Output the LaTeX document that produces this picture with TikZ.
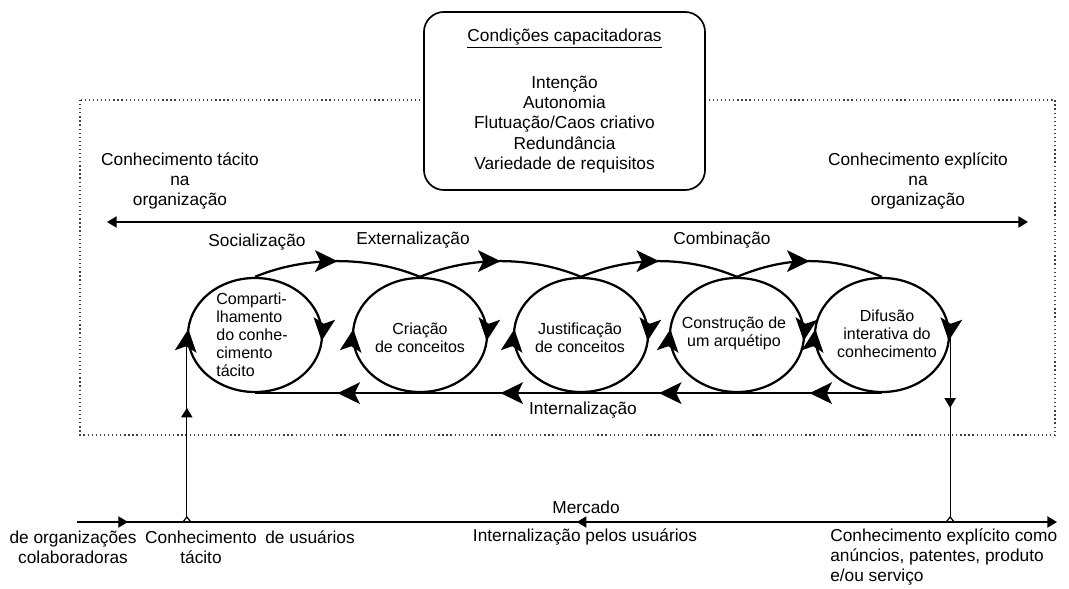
\documentclass[tikz,border=0pt]{standalone}
\usepackage{fontspec}
\setmainfont{Liberation Sans}
\usetikzlibrary{arrows.meta, shapes.geometric, decorations.markings, calc}

\tikzset{
  bigtip/.tip={Stealth[length=5.6mm, width=5.4mm, inset=1.3mm]},
  smalltip/.tip={Triangle[length=2.4mm, width=2.8mm]},
  lbl/.style={font=\fontsize{12.3}{14.2}\selectfont, align=center, inner sep=0pt},
  inside/.style={font=\fontsize{11.4}{12.8}\selectfont, align=center, inner sep=0pt},
  capbox/.style={draw, line width=1.2pt, rounded corners=0.5cm, fill=white,
    minimum width=7.025cm, minimum height=4.45cm, align=center,
    font=\fontsize{12.3}{14.4}\selectfont},
  phase/.style={ellipse, draw, line width=1.6pt, inner sep=0pt,
    minimum width=3.35cm, minimum height=2.85cm,
    postaction={decorate}, decoration={markings,
      mark=at position 0.485 with {\arrowreversed{bigtip}},
      mark=at position 0.985 with {\arrowreversed{bigtip}}}},
  spin/.style={line width=1.6pt, postaction={decorate},
    decoration={markings, mark=at position 0.5 with {\arrow{bigtip}}},
    to path={.. controls +(50,-21) and +(-50,-21) .. (\tikztotarget)}},
  backflow/.style={line width=1.6pt, postaction={decorate},
    decoration={markings, mark=at position 0.5 with {\arrow{bigtip}}}},
  wire/.style={line width=0.9pt},
  mid/.style={postaction={decorate},
    decoration={markings, mark=at position #1 with {\arrow{smalltip}}}},
}

\begin{document}
\begin{tikzpicture}[x=0.025cm, y=-0.025cm]
\useasboundingbox (0,0) rectangle (1069,589);

% organization frame and enabling conditions
\draw[dotted, line width=0.9pt, black!75] (80,100) rectangle (1055,435);
\node[capbox] (cap) at (564.5,101) {\underline{Condições capacitadoras}\\[19pt]
  Intenção\\Autonomia\\Flutuação/Caos criativo\\Redundância\\Variedade de requisitos};

\node[lbl] (tacit) at (180,181) {Conhecimento tácito\\na\\organização};
\node[lbl] (explicit) at (918,181) {Conhecimento explícito\\na\\organização};
\coordinate (axL) at (107,222);
\coordinate (axR) at (1028,222);
\draw[wire, smalltip-smalltip] (axL) -- (axR);

% the five phases
\begin{scope}[every node/.style={phase}]
    \node (e1) at (255,335) {};
    \node (e2) at (420,335) {};
    \node (e3) at (581,335) {};
    \node (e4) at (737,335) {};
    \node (e5) at (882,335) {};
\end{scope}

\begin{scope}[every node/.style={inside}]
    \node[align=left] (t1) at (252,335) {Comparti-\\lhamento\\do conhe-\\cimento\\tácito};
    \node (t2) at (420,338) {Criação\\de conceitos};
    \node (t3) at (580,338) {Justificação\\de conceitos};
    \node (t4) at (734,333) {Construção de\\um arquétipo};
    \node (t5) at (887,334) {Difusão\\interativa do\\conhecimento};
\end{scope}

\path (e1.north) edge[spin] (e2.north)
      (e2.north) edge[spin] (e3.north)
      (e3.north) edge[spin] (e4.north)
      (e4.north) edge[spin] (e5.north);
\path (e5.south) edge[backflow] (e4.south)
      (e4.south) edge[backflow] (e3.south)
      (e3.south) edge[backflow] (e2.south)
      (e2.south) edge[backflow] (e1.south);

\node[lbl] (soc) at (257,242) {Socialização};
\node[lbl] (ext) at (413,240) {Externalização};
\node[lbl] (comb) at (722,240) {Combinação};
\node[lbl] (int) at (583,410) {Internalização};

% market
\coordinate (mIn) at (77,522);
\coordinate (mOut) at (1057,522);
\coordinate (jL) at (e1.west |- mIn);
\coordinate (jR) at (e5.east |- mIn);
\draw[wire, -smalltip, postaction={decorate}, decoration={markings,
    mark=at position 0.052 with {\arrow{smalltip}},
    mark=at position 0.51 with {\arrowreversed{smalltip}}}] (mIn) -- (mOut);
\draw[wire] (jL) +(-4,0) -- +(0,-5) -- +(4,0);
\draw[wire] (jR) +(-4,0) -- +(0,-5) -- +(4,0);
\draw[wire, mid=0.6] ($(jL)+(0,-5)$) -- (e1.west);
\draw[wire, mid=0.4] (e5.east) -- ($(jR)+(0,-5)$);

\node[lbl] (orgs) at (73,547) {de organizações\\colaboradoras};
\node[lbl] (tacitB) at (201,547) {Conhecimento\\tácito};
\node[lbl] (users) at (310,537) {de usuários};
\node[lbl] (market) at (586,507) {Mercado};
\node[lbl] (intUsers) at (585,537) {Internalização pelos usuários};
\node[lbl, align=left, anchor=west] (explB) at (830,557) {Conhecimento explícito como\\anúncios, patentes, produto\\e/ou serviço};
\end{tikzpicture}
\end{document}
